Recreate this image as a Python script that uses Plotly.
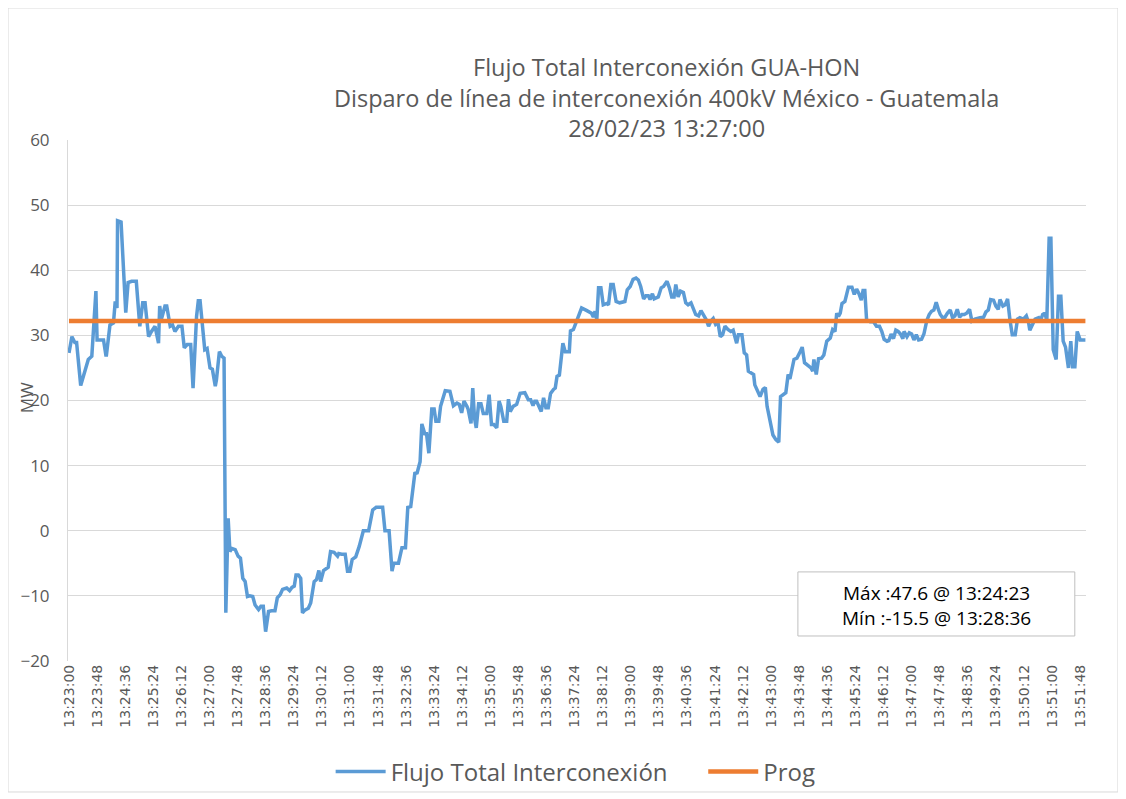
import plotly.graph_objects as go
import pandas as pd

# seconds after 13:23:00
t_sec = [0, 5, 10, 13, 20, 27, 33, 39, 46, 48, 59, 63, 64, 70, 76, 79, 82, 83, 89, 97,
         101, 107, 115, 121, 126, 130, 136, 141, 147, 153, 155, 158, 164, 167, 173, 177, 181, 187, 193, 197,
         202, 208, 212, 218, 221, 224, 229, 232, 236, 241, 245, 250, 252, 257, 261, 265, 268, 272, 275, 278,
         284, 289, 293, 297, 301, 305, 309, 314, 318, 324, 328, 332, 336, 341, 346, 352, 356, 361, 365, 372,
         377, 381, 385, 388, 392, 396, 399, 403, 409, 413, 419, 423, 427, 430, 435, 440, 443, 447, 453, 459,
         461, 466, 472, 476, 480, 484, 490, 496, 503, 512, 519, 525, 536, 540, 547, 552, 555, 563, 569, 575,
         579, 584, 591, 595, 600, 603, 608, 611, 615, 620, 624, 627, 632, 635, 643, 651, 657, 663, 667, 671,
         675, 680, 682, 687, 690, 693, 696, 700, 704, 708, 714, 718, 722, 726, 731, 735, 738, 743, 748, 751,
         754, 759, 765, 771, 779, 785, 789, 793, 796, 799, 803, 807, 811, 815, 819, 823, 828, 831, 834, 838,
         844, 848, 855, 857, 862, 868, 876, 885, 893, 896, 899, 902, 905, 909, 913, 919, 922, 926, 930, 935,
         941, 950, 954, 959, 964, 969, 973, 977, 982, 986, 990, 993, 997, 1000, 1007, 1012, 1016, 1022, 1026, 1030,
         1034, 1037, 1041, 1045, 1050, 1054, 1058, 1063, 1067, 1071, 1076, 1080, 1084, 1089, 1093, 1097, 1101, 1105, 1109, 1113,
         1117, 1121, 1126, 1131, 1135, 1138, 1141, 1144, 1150, 1154, 1158, 1161, 1167, 1170, 1172, 1176, 1181, 1186, 1190, 1193,
         1198, 1203, 1208, 1213, 1216, 1222, 1225, 1229, 1232, 1239, 1244, 1248, 1253, 1257, 1262, 1268, 1271, 1273, 1277, 1281,
         1286, 1290, 1295, 1301, 1305, 1309, 1312, 1315, 1318, 1321, 1326, 1329, 1332, 1338, 1342, 1346, 1350, 1354, 1357, 1360,
         1363, 1369, 1375, 1380, 1385, 1389, 1393, 1398, 1401, 1405, 1409, 1413, 1417, 1421, 1425, 1427, 1432, 1436, 1440, 1444,
         1448, 1452, 1457, 1461, 1466, 1470, 1474, 1478, 1482, 1486, 1489, 1493, 1497, 1501, 1506, 1510, 1514, 1518, 1522, 1526,
         1530, 1534, 1539, 1543, 1548, 1557, 1563, 1567, 1571, 1575, 1580, 1584, 1588, 1591, 1596, 1600, 1604, 1608, 1612, 1617,
         1621, 1625, 1631, 1636, 1640, 1642, 1646, 1651, 1657, 1660, 1664, 1668, 1671, 1675, 1678, 1682, 1687, 1691, 1695, 1699,
         1703, 1708, 1712, 1715, 1719, 1723, 1728, 1737]

flujo = [27.3, 29.8, 28.9, 28.9, 22.3, 24.5, 26.3, 26.8, 36.8, 29.3, 29.3, 27.0, 27.0, 31.6, 31.9, 35.2, 34.2, 47.6, 47.4, 33.5,
         38.1, 38.3, 38.3, 31.4, 35.0, 35.0, 29.8, 30.6, 31.4, 28.8, 34.5, 32.5, 34.5, 34.5, 31.4, 31.6, 30.6, 31.4, 31.4, 28.1,
         28.6, 28.6, 21.9, 32.9, 35.3, 35.3, 29.8, 27.8, 28.0, 25.0, 24.8, 22.2, 23.2, 27.5, 26.8, 26.5, -12.6, 1.9, -3.2, -2.7,
         -2.9, -3.9, -4.2, -7.3, -7.8, -10.1, -10.0, -10.1, -11.4, -12.1, -11.6, -11.6, -15.5, -12.4, -12.3, -12.3, -10.3, -9.8, -9.0, -8.8,
         -9.2, -8.7, -8.5, -6.8, -6.8, -7.3, -12.6, -12.2, -11.9, -11.1, -7.8, -7.5, -6.1, -7.8, -6.1, -5.7, -5.6, -3.2, -3.3, -3.9,
         -3.5, -3.6, -3.6, -6.2, -6.2, -4.4, -4.0, -2.4, 0.0, 0.0, 3.2, 3.6, 3.6, 0.0, 0.0, -6.2, -5.0, -5.0, -2.6, -2.6,
         3.6, 3.7, 8.8, 8.9, 10.6, 16.4, 14.9, 14.9, 11.9, 18.7, 18.7, 16.8, 16.8, 19.1, 21.5, 21.4, 19.2, 19.6, 19.4, 18.1,
         19.9, 19.1, 18.7, 16.5, 21.9, 17.3, 15.8, 19.5, 19.5, 18.0, 18.0, 20.9, 16.3, 16.3, 15.8, 19.9, 19.1, 16.8, 16.8, 20.2,
         18.3, 19.1, 19.4, 21.1, 21.2, 20.1, 20.1, 19.2, 19.9, 19.9, 19.1, 18.3, 20.4, 18.9, 18.9, 21.1, 21.7, 21.9, 23.7, 23.9,
         28.8, 27.5, 27.5, 30.7, 30.9, 32.4, 34.2, 33.8, 33.4, 32.8, 33.7, 32.4, 37.3, 37.3, 34.7, 34.9, 34.7, 37.8, 37.8, 35.2,
         35.0, 35.2, 37.0, 37.5, 38.6, 38.8, 38.5, 37.5, 35.6, 36.1, 36.1, 35.5, 36.4, 35.6, 35.9, 37.3, 37.5, 38.3, 37.3, 35.9,
         35.9, 37.8, 35.9, 36.8, 36.6, 35.0, 34.7, 35.0, 33.9, 33.2, 33.0, 33.8, 33.2, 32.4, 31.4, 32.2, 32.6, 31.7, 32.0, 29.8,
         30.1, 31.4, 30.9, 30.6, 30.8, 29.9, 28.8, 30.1, 30.1, 27.3, 27.0, 24.5, 24.2, 24.0, 22.4, 21.7, 20.6, 21.7, 22.0, 19.1,
         17.1, 14.7, 14.0, 13.6, 20.6, 21.1, 21.2, 24.0, 23.3, 26.3, 26.5, 27.2, 28.2, 25.8, 25.4, 25.0, 24.5, 26.3, 24.0, 26.4,
         26.5, 27.0, 29.1, 29.6, 30.9, 30.6, 33.4, 32.9, 33.4, 34.9, 35.2, 36.3, 37.4, 37.4, 36.3, 37.1, 36.4, 35.4, 36.9, 36.9,
         32.4, 32.1, 32.1, 31.4, 31.4, 30.6, 29.4, 29.1, 29.2, 30.2, 29.5, 30.8, 30.6, 30.2, 29.5, 30.6, 29.8, 30.4, 30.2, 29.3,
         30.1, 29.3, 29.4, 30.2, 32.3, 33.2, 33.7, 33.9, 35.1, 33.9, 33.2, 32.7, 32.8, 33.4, 33.9, 32.7, 33.0, 34.0, 32.8, 33.2,
         33.2, 33.4, 34.0, 32.2, 32.5, 32.7, 32.8, 33.6, 33.9, 35.5, 35.4, 34.5, 34.0, 35.5, 34.5, 34.7, 35.6, 32.4, 30.1, 30.1,
         32.5, 32.7, 32.5, 33.0, 31.9, 30.8, 31.7, 32.5, 32.7, 32.2, 33.2, 33.4, 32.2, 44.9, 44.9, 27.8, 26.3, 36.0, 36.0, 29.1,
         28.2, 25.0, 29.1, 25.2, 25.2, 30.6, 29.3, 29.3]

prog_value = 32.2
start_time = "2023-02-28 13:23:00"
tick_step_ms = 48000
title_lines = ["Flujo Total Interconexión GUA-HON",
               "Disparo de línea de interconexión 400kV México - Guatemala",
               "28/02/23 13:27:00"]
stats_lines = ["Máx :47.6 @ 13:24:23", "Mín :-15.5 @ 13:28:36"]

base = pd.Timestamp(start_time)
x_time = [(base + pd.Timedelta(seconds=s)).strftime("%Y-%m-%d %H:%M:%S") for s in t_sec]
x_range = [(base + pd.Timedelta(seconds=-1.7)).strftime("%Y-%m-%d %H:%M:%S.%f"),
           (base + pd.Timedelta(seconds=1738)).strftime("%Y-%m-%d %H:%M:%S.%f")]

TXT = "#595959"
FONT = "Open Sans"
W, H = 1118, 791
leg_y = 1 - 764 / H

fig = go.Figure()
fig.add_trace(go.Scatter(x=x_time, y=flujo, mode="lines", name="Flujo Total Interconexión",
                         line=dict(color="#5B9BD5", width=3.5), legend="legend"))
fig.add_trace(go.Scatter(x=[x_time[0], x_time[-1]], y=[prog_value, prog_value], mode="lines",
                         name="Prog", line=dict(color="#ED7D31", width=4.5), legend="legend2"))

leg_common = dict(orientation="h", xanchor="left", yanchor="middle", yref="container", y=leg_y,
                  font=dict(family=FONT, size=24, color=TXT), itemwidth=50,
                  bgcolor="rgba(0,0,0,0)")

fig.update_layout(
    width=W, height=H,
    margin=dict(l=60, r=40, t=132, b=138),
    paper_bgcolor="white", plot_bgcolor="white",
    showlegend=True,
    legend=dict(x=0.258, **leg_common),
    legend2=dict(x=0.624, **leg_common),
    xaxis=dict(type="date", range=x_range, tick0=start_time, dtick=tick_step_ms,
               tickformat="%H:%M:%S", tickangle=-90, showgrid=False, showline=False,
               ticks="", automargin=False,
               tickfont=dict(family="DejaVu Sans", size=14, color=TXT)),
    yaxis=dict(range=[-20, 60], dtick=10, showgrid=True, gridcolor="#D9D9D9", gridwidth=1,
               zeroline=False, showline=True, linecolor="#D9D9D9", ticks="",
               automargin=False, ticklabelstandoff=14,
               tickfont=dict(family=FONT, size=17, color=TXT)),
)

# three-line title as one text block
fig.add_annotation(text="<br>".join(title_lines), xref="paper", yref="paper", x=0.588, y=1.0825,
                   xanchor="center", yanchor="middle", align="center", showarrow=False,
                   font=dict(family=FONT, size=23.5, color=TXT))

fig.add_annotation(text="MW", xref="paper", yref="paper", x=-0.040, y=0.505, textangle=-90,
                   showarrow=False, xanchor="center", yanchor="middle",
                   font=dict(family=FONT, size=17, color=TXT))

# stats box
fig.add_shape(type="rect", xref="paper", yref="paper", x0=0.717, x1=0.989, y0=0.048, y1=0.171,
              line=dict(color="#BFBFBF", width=1), fillcolor="white", layer="above")
fig.add_annotation(text="<br>".join(stats_lines), xref="paper", yref="paper", x=0.8536, y=0.1065,
                   xanchor="center", yanchor="middle", align="center", showarrow=False,
                   font=dict(family=FONT, size=19, color="#000000"))

# outer chart border
fig.add_shape(type="rect", xref="paper", yref="paper", x0=-0.0589, x1=1.0314, y0=-0.2514, y1=1.2534,
              line=dict(color="#D9D9D9", width=1), fillcolor="rgba(0,0,0,0)", layer="below")

fig.write_html("out.html")
